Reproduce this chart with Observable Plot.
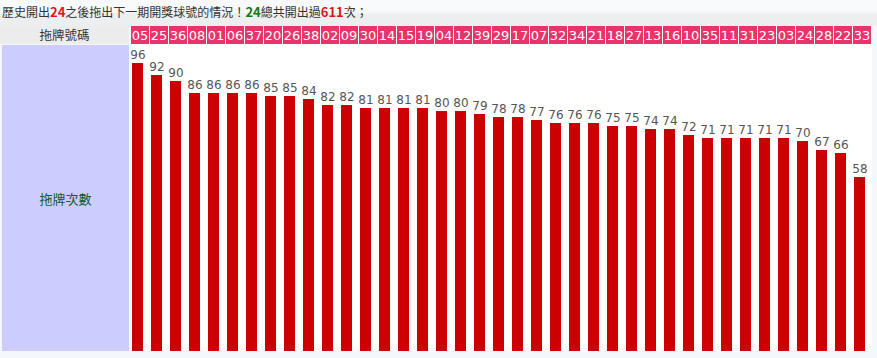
<!DOCTYPE html>
<html>
<head>
<meta charset="utf-8">
<script src="https://cdn.jsdelivr.net/npm/d3@7"></script>
<script src="https://cdn.jsdelivr.net/npm/@observablehq/plot@0.6"></script>
<style>
  html, body { margin: 0; padding: 0; }
  body { width: 877px; height: 358px; background: #f4f7fb; font-family: "Noto Sans CJK TC", "Noto Sans", sans-serif; overflow: hidden; }
  #title { height: 26px; line-height: 24px; font-size: 12px; color: #333; padding-left: 2px; white-space: nowrap;
           background: linear-gradient(#f8f9fa 0%, #f8f9fa 45%, #eceef0 55%, #eceef0 100%); }
  #title b.r { color: #d81818; font-size: 13px; }
  #title b.g { color: #137a13; font-size: 13px; }
  #row { display: flex; }
  #left { width: 131px; }
  #hdrLeft { height: 18px; line-height: 18px; background: #ececec; text-align: center; font-size: 12.5px; color: #333; width: 129px; }
  #lav { margin-top: 1px; margin-left: 2px; width: 127px; height: 306px; background: #ccccff; display: flex; align-items: center; justify-content: center; font-size: 13px; color: #0d5a2e; }
  #right { width: 741px; background: #fff; }
  #right svg { display: block; }
</style>
</head>
<body>
<div id="title"></div>
<div id="row">
  <div id="left"><div id="hdrLeft"></div><div id="lav"></div></div>
  <div id="right"><div id="hdr"></div><div id="bars"></div></div>
</div>
<script>
const titleParts = ["歷史開出", "24", "之後拖出下一期開獎球號的情況！", "24", "總共開出過", "611", "次；"];
const rowLabel = "拖牌號碼";
const colLabel = "拖牌次數";
const numbers = ["05","25","36","08","01","06","37","20","26","38","02","09","30","14","15","19","04","12","39","29","17","07","32","34","21","18","27","13","16","10","35","11","31","23","03","24","28","22","33"];
const counts = [96,92,90,86,86,86,86,85,85,84,82,82,81,81,81,81,80,80,79,78,78,77,76,76,76,75,75,74,74,72,71,71,71,71,71,70,67,66,58];

const data = numbers.map((n, i) => ({num: n, count: counts[i]}));

const t = document.getElementById("title");
const cls = [null, "r", null, "g", null, "r", null];
titleParts.forEach((p, i) => {
  const el = cls[i] ? document.createElement("b") : document.createElement("span");
  if (cls[i]) el.className = cls[i];
  el.textContent = p;
  t.appendChild(el);
});
document.getElementById("hdrLeft").textContent = rowLabel;
document.getElementById("lav").textContent = colLabel;

const xScale = {type: "band", domain: numbers, range: [0, 741], padding: 0, axis: null};

const hdr = Plot.plot({
  width: 741, height: 18,
  margin: 0,
  x: xScale,
  style: {background: "#ffffff", fontFamily: "DejaVu Sans, sans-serif"},
  marks: [
    Plot.cell(data, {x: "num", fill: "#e8336b", insetRight: 1}),
    Plot.text(data, {x: "num", text: "num", fill: "#ffffff", fontSize: 13, dx: -1})
  ]
});
document.getElementById("hdr").appendChild(hdr);

const bars = Plot.plot({
  width: 741, height: 307,
  margin: 0,
  x: xScale,
  y: {domain: [0, 100], range: [307, 7], axis: null},
  style: {background: "#ffffff", fontFamily: "DejaVu Sans, sans-serif"},
  marks: [
    Plot.barY(data, {x: "num", y: "count", fill: "#cc0000", insetLeft: 1, insetRight: 7}),
    Plot.text(data, {x: "num", y: "count", text: "count", dx: -3, dy: -8, fill: "#555", fontSize: 12})
  ]
});
document.getElementById("bars").appendChild(bars);
</script>
</body>
</html>
